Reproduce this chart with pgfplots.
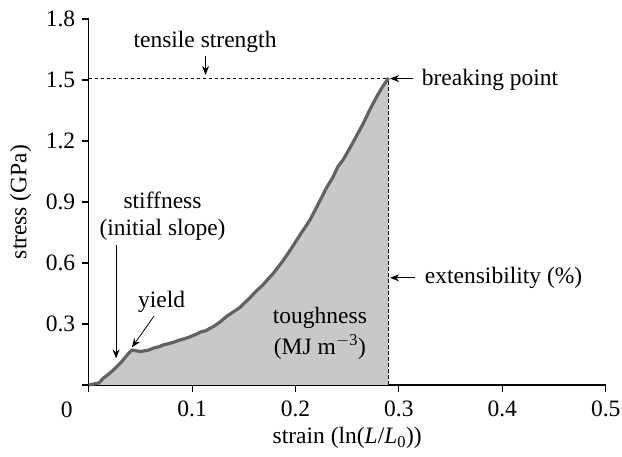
\documentclass[border=0pt]{standalone}
\usepackage{fontspec}
\setmainfont{Liberation Serif}
\usepackage{pgfplots}
\pgfplotsset{compat=1.18}
\usetikzlibrary{arrows.meta}
\definecolor{fillgray}{RGB}{199,200,202}
\definecolor{linegray}{RGB}{98,98,98}
\begin{document}
\begin{tikzpicture}[font=\fontsize{23.5}{28}\selectfont]
\begin{axis}[
  scale only axis, width=517pt, height=366pt,
  xmin=0, xmax=0.5, ymin=0, ymax=1.8,
  axis lines=left, axis line style={-, line width=1.1pt},
  tick align=outside, major tick length=7pt,
  tick style={line width=1.1pt, black},
  xtick={0,0.1,0.2,0.3,0.4,0.5},
  xticklabels={,0.1,0.2,0.3,0.4,0.5},
  ytick={0,0.3,0.6,0.9,1.2,1.5,1.8},
  yticklabels={,0.3,0.6,0.9,1.2,1.5,1.8},
  xticklabel style={anchor=center, yshift=-17pt},
  yticklabel style={anchor=east, xshift=-3pt},
  xlabel={strain (ln(\textit{L}/\textit{L}\textsubscript{0}))},
  ylabel={stress (GPa)},
  xlabel style={at={([yshift=-53pt]axis description cs:0.5,0)}, anchor=center},
  ylabel style={at={([xshift=-68pt]axis description cs:0,0.5)}, anchor=center},
  clip=false,
]
\addplot[fill=fillgray, draw=none] coordinates {
(0,0) (0.005,0.005) (0.010,0.010) (0.014,0.033) (0.019,0.052) (0.024,0.074)
(0.028,0.095) (0.032,0.115) (0.036,0.140) (0.040,0.164) (0.042,0.172)
(0.046,0.168) (0.050,0.165) (0.053,0.167) (0.058,0.172) (0.063,0.182)
(0.068,0.188) (0.072,0.197) (0.077,0.203) (0.082,0.210) (0.088,0.221)
(0.093,0.228) (0.098,0.237) (0.104,0.250) (0.109,0.262) (0.113,0.266)
(0.117,0.278) (0.1205,0.287) (0.127,0.310) (0.133,0.336) (0.140,0.360)
(0.146,0.380) (0.152,0.410) (0.157,0.435) (0.162,0.462) (0.168,0.490)
(0.1785,0.549) (0.187,0.605) (0.195,0.664) (0.204,0.735) (0.214,0.812)
(0.222,0.890) (0.230,0.970) (0.236,1.020) (0.241,1.074) (0.246,1.107)
(0.252,1.160) (0.259,1.225) (0.2656,1.287) (0.272,1.355) (0.2785,1.418)
(0.284,1.465) (0.290,1.510)
} \closedcycle;
\addplot[black, line width=0.8pt, dash pattern=on 3.5pt off 2.5pt] coordinates {(0,1.51) (0.29,1.51)};
\addplot[black, line width=0.8pt, dash pattern=on 3.5pt off 2.5pt] coordinates {(0.29,0) (0.29,1.51)};
\addplot[linegray, line width=3.2pt, line join=round] coordinates {
(0,0) (0.005,0.005) (0.010,0.010) (0.014,0.033) (0.019,0.052) (0.024,0.074)
(0.028,0.095) (0.032,0.115) (0.036,0.140) (0.040,0.164) (0.042,0.172)
(0.046,0.168) (0.050,0.165) (0.053,0.167) (0.058,0.172) (0.063,0.182)
(0.068,0.188) (0.072,0.197) (0.077,0.203) (0.082,0.210) (0.088,0.221)
(0.093,0.228) (0.098,0.237) (0.104,0.250) (0.109,0.262) (0.113,0.266)
(0.117,0.278) (0.1205,0.287) (0.127,0.310) (0.133,0.336) (0.140,0.360)
(0.146,0.380) (0.152,0.410) (0.157,0.435) (0.162,0.462) (0.168,0.490)
(0.1785,0.549) (0.187,0.605) (0.195,0.664) (0.204,0.735) (0.214,0.812)
(0.222,0.890) (0.230,0.970) (0.236,1.020) (0.241,1.074) (0.246,1.107)
(0.252,1.160) (0.259,1.225) (0.2656,1.287) (0.272,1.355) (0.2785,1.418)
(0.284,1.465) (0.290,1.510)
};
\coordinate (O) at (axis cs:0,0);
\node[inner sep=0pt] at ([xshift=-22pt,yshift=-25pt]axis cs:0,0) {0};
% annotations
\node[inner sep=0pt] at (axis cs:0.1125,1.687) {tensile strength};
\draw[-{Stealth[length=9pt,width=7pt]}, line width=0.8pt] (axis cs:0.113,1.62) -- (axis cs:0.113,1.525);
\node[inner sep=0pt, anchor=west] at (axis cs:0.322,1.50) {breaking point};
\draw[-{Stealth[length=9pt,width=7pt]}, line width=0.8pt] (axis cs:0.314,1.507) -- (axis cs:0.2915,1.507);
\node[inner sep=0pt, anchor=west] at (axis cs:0.325,0.525) {extensibility (\%)};
\draw[-{Stealth[length=9pt,width=7pt]}, line width=0.8pt] (axis cs:0.3156,0.527) -- (axis cs:0.2915,0.527);
\node[inner sep=0pt] at (axis cs:0.2236,0.328) {toughness};
\node[inner sep=0pt] at (axis cs:0.2236,0.188) {(MJ m\textsuperscript{$-$3})};
\node[inner sep=0pt] at (axis cs:0.0714,0.91) {stiffness};
\node[inner sep=0pt] at (axis cs:0.0714,0.765) {(initial slope)};
\draw[-{Stealth[length=9pt,width=7pt]}, line width=0.8pt] (axis cs:0.0265,0.689) -- (axis cs:0.0265,0.131);
\node[inner sep=0pt] at (axis cs:0.0706,0.41) {yield};
\draw[-{Stealth[length=9pt,width=7pt]}, line width=0.8pt] (axis cs:0.0632,0.339) -- (axis cs:0.0418,0.185);
\end{axis}
\pgfresetboundingbox
\path[use as bounding box] (O) ++(-88.7pt,-72pt) rectangle ++(622pt,457pt);
\end{tikzpicture}
\end{document}
